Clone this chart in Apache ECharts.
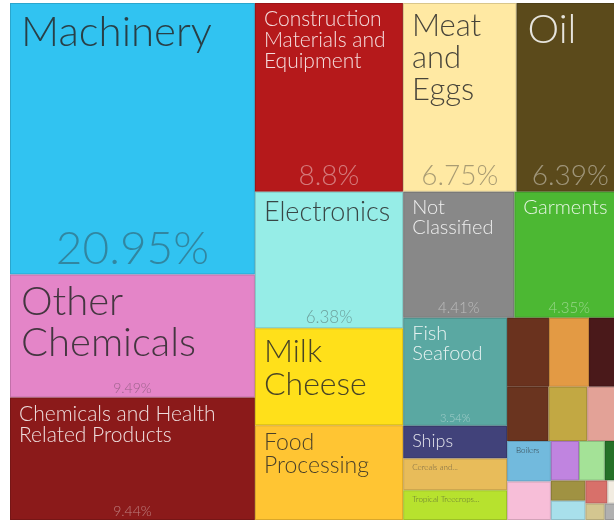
<!DOCTYPE html>
<html>
<head>
<meta charset="utf-8">
<title>Export treemap</title>
<script src="https://cdn.jsdelivr.net/npm/echarts@6/dist/echarts.min.js"></script>
<style>
  html, body { margin: 0; padding: 0; background: #fff; }
  #chart { width: 614px; height: 522px; }
</style>
</head>
<body>
<div id="chart"></div>
<script>
// product groups and their share of exports (%)
const categories = [
  "Machinery", "Other Chemicals", "Chemicals and Health Related Products",
  "Construction Materials and Equipment", "Meat and Eggs", "Oil", "Electronics",
  "Milk Cheese", "Food Processing", "Not Classified", "Garments", "Fish Seafood",
  "Ships", "Cereals and Vegetable Oils", "Tropical Treecrops and Flowers",
  "Textile and Fabrics", "Home and Office", "Metal Products", "Leather",
  "Pulp and Paper", "Petrochemicals", "Boilers", "Vehicles", "Aircraft", "Fruit",
  "Other Agriculture", "Tobacco", "Mining", "Animal Fibers",
  "Cotton, Rice, Soy and Others", "Coal", "Animal Agriculture"
];
const shares = [
  20.95, 9.49, 9.44,
  8.8, 6.75, 6.39, 6.38,
  4.52, 4.43, 4.41, 4.35, 3.54,
  1.07, 1.04, 0.97,
  0.91, 0.87, 0.76, 0.71,
  0.66, 0.63, 0.56, 0.53, 0.35, 0.32,
  0.24, 0.22, 0.21, 0.16,
  0.12, 0.1, 0.1
];

// styling, one entry per category
const colors = [
  "#31c3f1", "#e485c8", "#8b1a1a", "#b5191b", "#ffe9a3", "#5b4a1b", "#96ede7",
  "#ffe01a", "#ffc533", "#888888", "#4cb833", "#5aa8a2", "#41427a", "#e8bc5a",
  "#b7e22e", "#6a321e", "#e39a44", "#4a191a", "#6a341f", "#c2a843", "#e3a297",
  "#72badd", "#f7bed8", "#c084e0", "#a4e297", "#257128", "#a09242", "#a8e0eb",
  "#d8706a", "#f2ece1", "#b0b0b0", "#d3c690"
];
const nameSizes = [42, 40, 21, 21, 31, 40, 27, 32, 23, 20, 20, 20, 18, 8, 8,
  0, 0, 0, 0, 0, 0, 8, 0, 0, 0, 0, 0, 0, 0, 0, 0, 0];
const pctSizes = [46, 14, 14, 28, 28, 28, 17, 0, 0, 15, 15, 11, 0, 0, 0,
  0, 0, 0, 0, 0, 0, 0, 0, 0, 0, 0, 0, 0, 0, 0, 0, 0];
// long names shown cut after a few words
const cutAfterWords = { "Cereals and Vegetable Oils": 2, "Tropical Treecrops and Flowers": 2 };

const FONT = "Lato";

function rgbOf(hex) {
  return echarts.color.parse(hex);
}
function isDark(hex) {
  const c = rgbOf(hex);
  return 0.299 * c[0] + 0.587 * c[1] + 0.114 * c[2] < 150;
}
function darker(hex, k) {
  const c = rgbOf(hex);
  return "rgb(" + Math.round(c[0] * k) + "," + Math.round(c[1] * k) + "," + Math.round(c[2] * k) + ")";
}

const nameData = categories.map((name, i) => {
  const dark = isDark(colors[i]);
  const fs = nameSizes[i];
  const label = {
    show: fs > 0,
    fontSize: fs,
    lineHeight: Math.round(fs * 1.02),
    color: dark ? "rgba(255,255,255,0.85)" : "rgba(40,40,40,0.85)",
    padding: [Math.round(0.06 * fs + 4), 0, 0, 0],
    offset: [fs > 35 ? 10 : 8, 0]
  };
  if (cutAfterWords[name]) {
    const n = cutAfterWords[name];
    label.formatter = name.split(" ").slice(0, n).join(" ") + "...";
    label.color = "rgba(60,60,60,0.7)";
  }
  return {
    name: name,
    value: shares[i],
    itemStyle: {
      color: colors[i],
      borderColor: darker(colors[i], 0.85),
      borderWidth: 1
    },
    label: label
  };
});

const pctData = categories.map((name, i) => {
  const dark = isDark(colors[i]);
  const fs = pctSizes[i];
  return {
    name: name,
    value: shares[i],
    itemStyle: { color: "rgba(0,0,0,0)", borderColor: "rgba(0,0,0,0)", borderWidth: 0 },
    label: {
      show: fs > 0,
      fontSize: fs,
      lineHeight: fs,
      color: dark ? "rgba(255,255,255,0.42)" : "rgba(50,50,50,0.42)"
    }
  };
});

const box = { left: 10, top: 3, width: 614, height: 517 };

const chart = echarts.init(document.getElementById("chart"));
chart.setOption({
  backgroundColor: "#fff",
  animation: false,
  series: [
    Object.assign({
      type: "treemap",
      roam: false,
      nodeClick: false,
      breadcrumb: { show: false },
      levels: [{ itemStyle: { borderWidth: 0, gapWidth: 0 } }],
      label: {
        position: "insideTopLeft",
        distance: 0,
        fontFamily: FONT,
        fontWeight: 300,
        overflow: "break"
      },
      data: nameData
    }, box),
    Object.assign({
      type: "treemap",
      roam: false,
      nodeClick: false,
      silent: true,
      breadcrumb: { show: false },
      levels: [{ itemStyle: { borderWidth: 0, gapWidth: 0 } }],
      label: {
        position: "insideBottom",
        distance: 0,
        padding: [0, 0, 2, 0],
        fontFamily: FONT,
        fontWeight: 300,
        formatter: p => p.value + "%"
      },
      data: pctData
    }, box)
  ]
});
</script>
</body>
</html>
